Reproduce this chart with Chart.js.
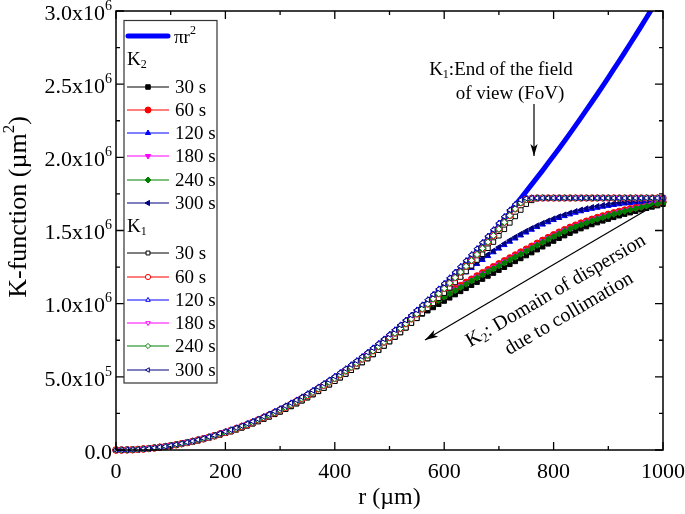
<!DOCTYPE html>
<html>
<head>
<meta charset="utf-8">
<script src="https://cdn.jsdelivr.net/npm/chart.js"></script>
<style>
  html, body { margin: 0; padding: 0; background: #fff; }
  #wrap { width: 685px; height: 514px; }
</style>
</head>
<body>
<div id="wrap"><canvas id="kChart" width="685" height="514"></canvas></div>
<script>
// r in µm, K values in thousands of µm²
const radius = [0,10,20,30,40,50,60,70,80,90,100,110,120,130,140,150,160,170,180,190,200,
  210,220,230,240,250,260,270,280,290,300,310,320,330,340,350,360,370,380,390,400,
  410,420,430,440,450,460,470,480,490,500,510,520,530,540,550,560,570,580,590,600,
  610,620,630,640,650,660,670,680,690,700,710,720,730,740,750,760,770,780,790,800,
  810,820,830,840,850,860,870,880,890,900,910,920,930,940,950,960,970,980,990,1000];

// r = 0 ... 550, where all curves sit on top of each other
const lowHigh = [0,0,1,2,4,7,10,15,20,25,31,38,45,53,61,70,80,90,101,113,125,138,151,165,180,195,211,228,245,263,
  282,301,321,341,362,384,407,430,454,478,503,529,555,582,610,638,667,697,727,758,789,821,854,887,921,956];
const lowMid = [0,0,1,2,4,7,10,14,19,24,30,36,43,51,59,68,77,87,98,109,121,133,146,160,174,189,205,221,238,255,
  273,292,311,331,352,373,395,418,441,465,489,514,540,566,593,621,649,678,707,737,768,799,831,863,896,930];
const lowLow = [0,0,1,2,3,6,9,13,17,22,28,34,41,48,56,64,73,83,93,104,115,126,139,152,166,180,195,211,227,244,
  261,279,298,317,337,358,379,401,423,446,470,494,519,545,571,598,625,653,682,711,741,772,803,835,867,900];

// r = 560 ... 1000
const k2Tail30 = [930,952,974,996,1018,1040,1062,1084,1105,1126,1147,1168,1189,1209,1229,1249,1269,1289,1309,1329,
  1349,1369,1389,1409,1428,1447,1465,1482,1498,1513,1527,1541,1554,1566,1578,1590,1601,1612,1622,1632,1642,1652,1661,1670,1680];
const k2Tail60 = [960,984,1008,1032,1056,1079,1102,1124,1146,1168,1190,1211,1232,1253,1273,1293,1313,1333,1353,1373,
  1393,1413,1433,1452,1471,1489,1506,1522,1537,1551,1564,1577,1589,1600,1611,1621,1631,1640,1649,1658,1666,1674,1681,1688,1695];
const k2Tail120 = [962,995,1028,1061,1093,1124,1155,1185,1215,1244,1272,1299,1326,1352,1377,1401,1424,1446,1467,1487,
  1506,1524,1541,1557,1572,1586,1599,1611,1622,1632,1641,1649,1656,1663,1669,1675,1680,1685,1689,1693,1697,1701,1704,1707,1710];
const k2Tail180 = [958,981,1005,1029,1052,1075,1097,1119,1141,1163,1184,1205,1226,1247,1267,1287,1307,1327,1347,1367,
  1387,1407,1427,1447,1466,1484,1501,1517,1532,1546,1559,1572,1584,1595,1606,1617,1627,1636,1645,1654,1663,1671,1679,1686,1693];
const k2Tail240 = [955,977,1000,1023,1046,1068,1090,1112,1134,1156,1177,1198,1219,1239,1259,1279,1299,1319,1339,1359,
  1379,1400,1420,1440,1460,1478,1495,1511,1526,1540,1553,1566,1578,1590,1601,1612,1622,1632,1641,1650,1659,1667,1675,1683,1690];
const k2Tail300 = [975,1008,1041,1073,1104,1135,1165,1195,1224,1253,1281,1308,1335,1361,1386,1410,1433,1455,1476,1496,
  1515,1533,1550,1566,1581,1595,1608,1620,1631,1641,1650,1658,1665,1672,1678,1684,1689,1694,1698,1702,1706,1709,1712,1715,1718];
const k1Tail30 = [934,968,1002,1037,1072,1108,1145,1182,1220,1259,1298,1338,1379,1421,1464,1508,1552,1596,1640,1680,
  1706,1718,1721,1722,1722,1722,1722,1722,1722,1722,1722,1722,1722,1722,1722,1722,1722,1722,1722,1722,1722,1722,1722,1722,1722];
const k1TailMid = [964,998,1033,1068,1104,1141,1178,1216,1255,1295,1336,1378,1421,1465,1510,1556,1602,1648,1690,1712,
  1720,1722,1722,1722,1722,1722,1722,1722,1722,1722,1722,1722,1722,1722,1722,1722,1722,1722,1722,1722,1722,1722,1722,1722,1722];
const k1Tail300 = [991,1027,1063,1100,1138,1176,1215,1254,1294,1335,1376,1418,1461,1505,1550,1595,1640,1680,1708,1719,
  1722,1722,1722,1722,1722,1722,1722,1722,1722,1722,1722,1722,1722,1722,1722,1722,1722,1722,1722,1722,1722,1722,1722,1722,1722];

const k2_30s = lowLow.concat(k2Tail30);
const k2_60s = lowMid.concat(k2Tail60);
const k2_120s = lowMid.concat(k2Tail120);
const k2_180s = lowMid.concat(k2Tail180);
const k2_240s = lowMid.concat(k2Tail240);
const k2_300s = lowHigh.concat(k2Tail300);
const k1_30s = lowLow.concat(k1Tail30);
const k1_60s = lowMid.concat(k1TailMid);
const k1_120s = lowHigh.concat(k1Tail300);
const k1_180s = lowMid.concat(k1TailMid);
const k1_240s = lowMid.concat(k1TailMid);
const k1_300s = lowHigh.concat(k1Tail300);

// pi r^2 reference, visible part only
const piRadius = [720,730,740,750,760,770,780,790,800,810,820,830,840,850,860,870,880,890,900,910,920,930,940,950,960,970,980];
const piK = [1629,1674,1720,1767,1815,1863,1911,1961,2011,2061,2112,2164,2217,2270,2324,2378,2433,2488,2545,2602,2659,2717,2776,2835,2895,2956,3017];

const xTickValues = [0,200,400,600,800,1000];
const xTickText = ['0','200','400','600','800','1000'];
const xMinorValues = [100,300,500,700,900];
const yTickValues = [0,5e5,1e6,1.5e6,2e6,2.5e6,3e6];
const yTickText = ['0.0','5.0x10','1.0x10','1.5x10','2.0x10','2.5x10','3.0x10'];
const yTickPower = ['','5','6','6','6','6','6'];
const yMinorValues = [2.5e5,7.5e5,1.25e6,1.75e6,2.25e6,2.75e6];

const timeLabels = ['30 s','60 s','120 s','180 s','240 s','300 s'];
const colors = ['#000000','#ff0000','#0000ff','#ff00ff','#008000','#000080'];
const shapes = ['rect','circle','triangle','triangle','rectRot','triangle'];
const rotations = [0,0,0,180,0,-90];

const SERIF = '"Liberation Serif", "Times New Roman", serif';

function toPoints(vals) {
  return vals.map((v, i) => ({ x: radius[i], y: v * 1000 }));
}

const k2Series = [k2_30s, k2_60s, k2_120s, k2_180s, k2_240s, k2_300s];
const k1Series = [k1_30s, k1_60s, k1_120s, k1_180s, k1_240s, k1_300s];

const datasets = [];
datasets.push({
  label: 'πr²',
  data: piK.map((v, i) => ({ x: piRadius[i], y: v * 1000 })),
  borderColor: '#0000ff', borderWidth: 5, pointRadius: 0, order: 20
});
k2Series.forEach((s, i) => datasets.push({
  label: 'K2 ' + timeLabels[i], data: toPoints(s),
  borderColor: colors[i], backgroundColor: colors[i], borderWidth: 1,
  pointStyle: shapes[i], rotation: rotations[i], pointRadius: 3.2, pointBorderWidth: 1,
  order: 19 - i, clip: 5
}));
k1Series.forEach((s, i) => datasets.push({
  label: 'K1 ' + timeLabels[i], data: toPoints(s),
  borderColor: colors[i], backgroundColor: '#ffffff', borderWidth: 1,
  pointStyle: shapes[i], rotation: rotations[i], pointRadius: 3.2, pointBorderWidth: 1,
  order: 12 - i, clip: 5
}));

// text with sub/superscripts: parts = [[text, 0|1|-1], ...]
function rich(ctx, parts, x, y, size, align) {
  const fonts = parts.map(p => (p[1] ? Math.round(size * 0.65) : size) + 'px ' + SERIF);
  const widths = parts.map((p, i) => { ctx.font = fonts[i]; return ctx.measureText(p[0]).width; });
  const total = widths.reduce((a, b) => a + b, 0);
  let cx = align === 'center' ? x - total / 2 : align === 'right' ? x - total : x;
  ctx.textAlign = 'left';
  ctx.textBaseline = 'middle';
  parts.forEach((p, i) => {
    ctx.font = fonts[i];
    const dy = p[1] === 1 ? -size * 0.36 : p[1] === -1 ? size * 0.25 : 0;
    ctx.fillText(p[0], cx, y + dy);
    cx += widths[i];
  });
}

function arrow(ctx, x1, y1, x2, y2, head) {
  ctx.beginPath(); ctx.moveTo(x1, y1); ctx.lineTo(x2, y2); ctx.stroke();
  const a = Math.atan2(y2 - y1, x2 - x1);
  ctx.beginPath();
  ctx.moveTo(x2, y2);
  ctx.lineTo(x2 - head * Math.cos(a) + head * 0.3 * Math.sin(a), y2 - head * Math.sin(a) - head * 0.3 * Math.cos(a));
  ctx.lineTo(x2 - head * 0.75 * Math.cos(a), y2 - head * 0.75 * Math.sin(a));
  ctx.lineTo(x2 - head * Math.cos(a) - head * 0.3 * Math.sin(a), y2 - head * Math.sin(a) + head * 0.3 * Math.cos(a));
  ctx.closePath(); ctx.fill();
}

function marker(ctx, shape, rot, x, y, r, color, open) {
  ctx.save();
  ctx.fillStyle = open ? '#ffffff' : color;
  ctx.strokeStyle = color;
  ctx.lineWidth = 1;
  ctx.beginPath();
  if (shape === 'circle') {
    ctx.arc(x, y, r, 0, Math.PI * 2);
  } else if (shape === 'rect') {
    const h = r * 0.75;
    ctx.rect(x - h, y - h, 2 * h, 2 * h);
  } else if (shape === 'rectRot') {
    ctx.moveTo(x, y - r); ctx.lineTo(x + r, y); ctx.lineTo(x, y + r); ctx.lineTo(x - r, y); ctx.closePath();
  } else {
    for (let k = 0; k < 3; k++) {
      const ang = (rot + k * 120) * Math.PI / 180;
      const px = x + Math.sin(ang) * r, py = y - Math.cos(ang) * r;
      if (k === 0) ctx.moveTo(px, py); else ctx.lineTo(px, py);
    }
    ctx.closePath();
  }
  ctx.fill(); ctx.stroke();
  ctx.restore();
}

const decor = {
  id: 'decor',
  afterDraw(chart) {
    const { ctx, chartArea: a, scales: { x, y } } = chart;
    ctx.save();
    ctx.strokeStyle = '#000'; ctx.fillStyle = '#000';

    // frame and inward ticks on all four sides
    ctx.lineWidth = 1.5;
    ctx.strokeRect(a.left, a.top, a.right - a.left, a.bottom - a.top);
    ctx.lineWidth = 1.3;
    const xt = xTickValues.map(v => [v, 8]).concat(xMinorValues.map(v => [v, 4]));
    xt.forEach(([v, len]) => {
      const px = x.getPixelForValue(v);
      ctx.beginPath();
      ctx.moveTo(px, a.bottom); ctx.lineTo(px, a.bottom - len);
      ctx.moveTo(px, a.top); ctx.lineTo(px, a.top + len);
      ctx.stroke();
    });
    const yt = yTickValues.map(v => [v, 8]).concat(yMinorValues.map(v => [v, 4]));
    yt.forEach(([v, len]) => {
      const py = y.getPixelForValue(v);
      ctx.beginPath();
      ctx.moveTo(a.left, py); ctx.lineTo(a.left + len, py);
      ctx.moveTo(a.right, py); ctx.lineTo(a.right - len, py);
      ctx.stroke();
    });

    // tick labels
    xTickValues.forEach((v, i) => {
      rich(ctx, [[xTickText[i], 0]], x.getPixelForValue(v), a.bottom + 22, 22, 'center');
    });
    yTickValues.forEach((v, i) => {
      const parts = [[yTickText[i], 0]];
      if (yTickPower[i]) parts.push([yTickPower[i], 1]);
      rich(ctx, parts, a.left - 4, y.getPixelForValue(v) + 3, 22, 'right');
    });

    // axis titles
    rich(ctx, [['r (µm)', 0]], (a.left + a.right) / 2, 498, 24, 'center');
    ctx.save();
    ctx.translate(19, 207);
    ctx.rotate(-Math.PI / 2);
    rich(ctx, [['K-function (µm', 0], ['2', 1], [')', 0]], 0, 0, 26, 'center');
    ctx.restore();

    // annotations
    rich(ctx, [['K', 0], ['1', -1], [':End of the field', 0]], 501, 70, 19, 'center');
    rich(ctx, [['of view (FoV)', 0]], 510, 94, 19, 'center');
    ctx.lineWidth = 1.2;
    arrow(ctx, 534, 104, 534, 156, 12);
    arrow(ctx, 655, 205, 425, 340, 13);
    const ang = -Math.atan2(135, 230);
    ctx.save();
    ctx.translate(556, 291); ctx.rotate(ang);
    rich(ctx, [['K', 0], ['2', -1], [': Domain of dispersion', 0]], 0, 0, 20, 'center');
    ctx.restore();
    ctx.save();
    ctx.translate(569, 314); ctx.rotate(ang);
    rich(ctx, [['due to collimation', 0]], 0, 0, 20, 'center');
    ctx.restore();

    // legend box
    ctx.fillStyle = '#fff';
    ctx.fillRect(124, 20.5, 93, 362.5);
    ctx.strokeStyle = '#333'; ctx.lineWidth = 1.2;
    ctx.strokeRect(124, 20.5, 93, 362.5);
    ctx.fillStyle = '#000';
    ctx.strokeStyle = '#0000ff'; ctx.lineWidth = 5; ctx.lineCap = 'round';
    ctx.beginPath(); ctx.moveTo(128, 36); ctx.lineTo(168, 36); ctx.stroke();
    ctx.lineCap = 'butt';
    rich(ctx, [['πr', 0], ['2', 1]], 174, 38, 19, 'left');
    rich(ctx, [['K', 0], ['2', -1]], 127, 60, 19, 'left');
    rich(ctx, [['K', 0], ['1', -1]], 127, 227, 19, 'left');
    const rowsK2 = [87, 110, 133, 156, 180, 203];
    const rowsK1 = [253, 277, 300, 323, 346, 370];
    [[rowsK2, false], [rowsK1, true]].forEach(([rows, open]) => {
      rows.forEach((ry, i) => {
        ctx.strokeStyle = colors[i]; ctx.lineWidth = 1.2;
        ctx.beginPath(); ctx.moveTo(127, ry); ctx.lineTo(169, ry); ctx.stroke();
        marker(ctx, shapes[i], rotations[i], 148, ry, open ? 2.6 : 3, colors[i], open);
        ctx.fillStyle = '#000';
        rich(ctx, [[timeLabels[i], 0]], 175, ry + 1, 19, 'left');
      });
    });
    ctx.restore();
  }
};

new Chart(document.getElementById('kChart').getContext('2d'), {
  type: 'line',
  data: { datasets: datasets },
  options: {
    responsive: false,
    animation: false,
    layout: { padding: { left: 116, right: 22, top: 11, bottom: 64 } },
    scales: {
      x: { type: 'linear', min: 0, max: 1000, display: false },
      y: { type: 'linear', min: 0, max: 3e6, display: false }
    },
    plugins: { legend: { display: false }, tooltip: { enabled: false } }
  },
  plugins: [decor]
});
</script>
</body>
</html>
